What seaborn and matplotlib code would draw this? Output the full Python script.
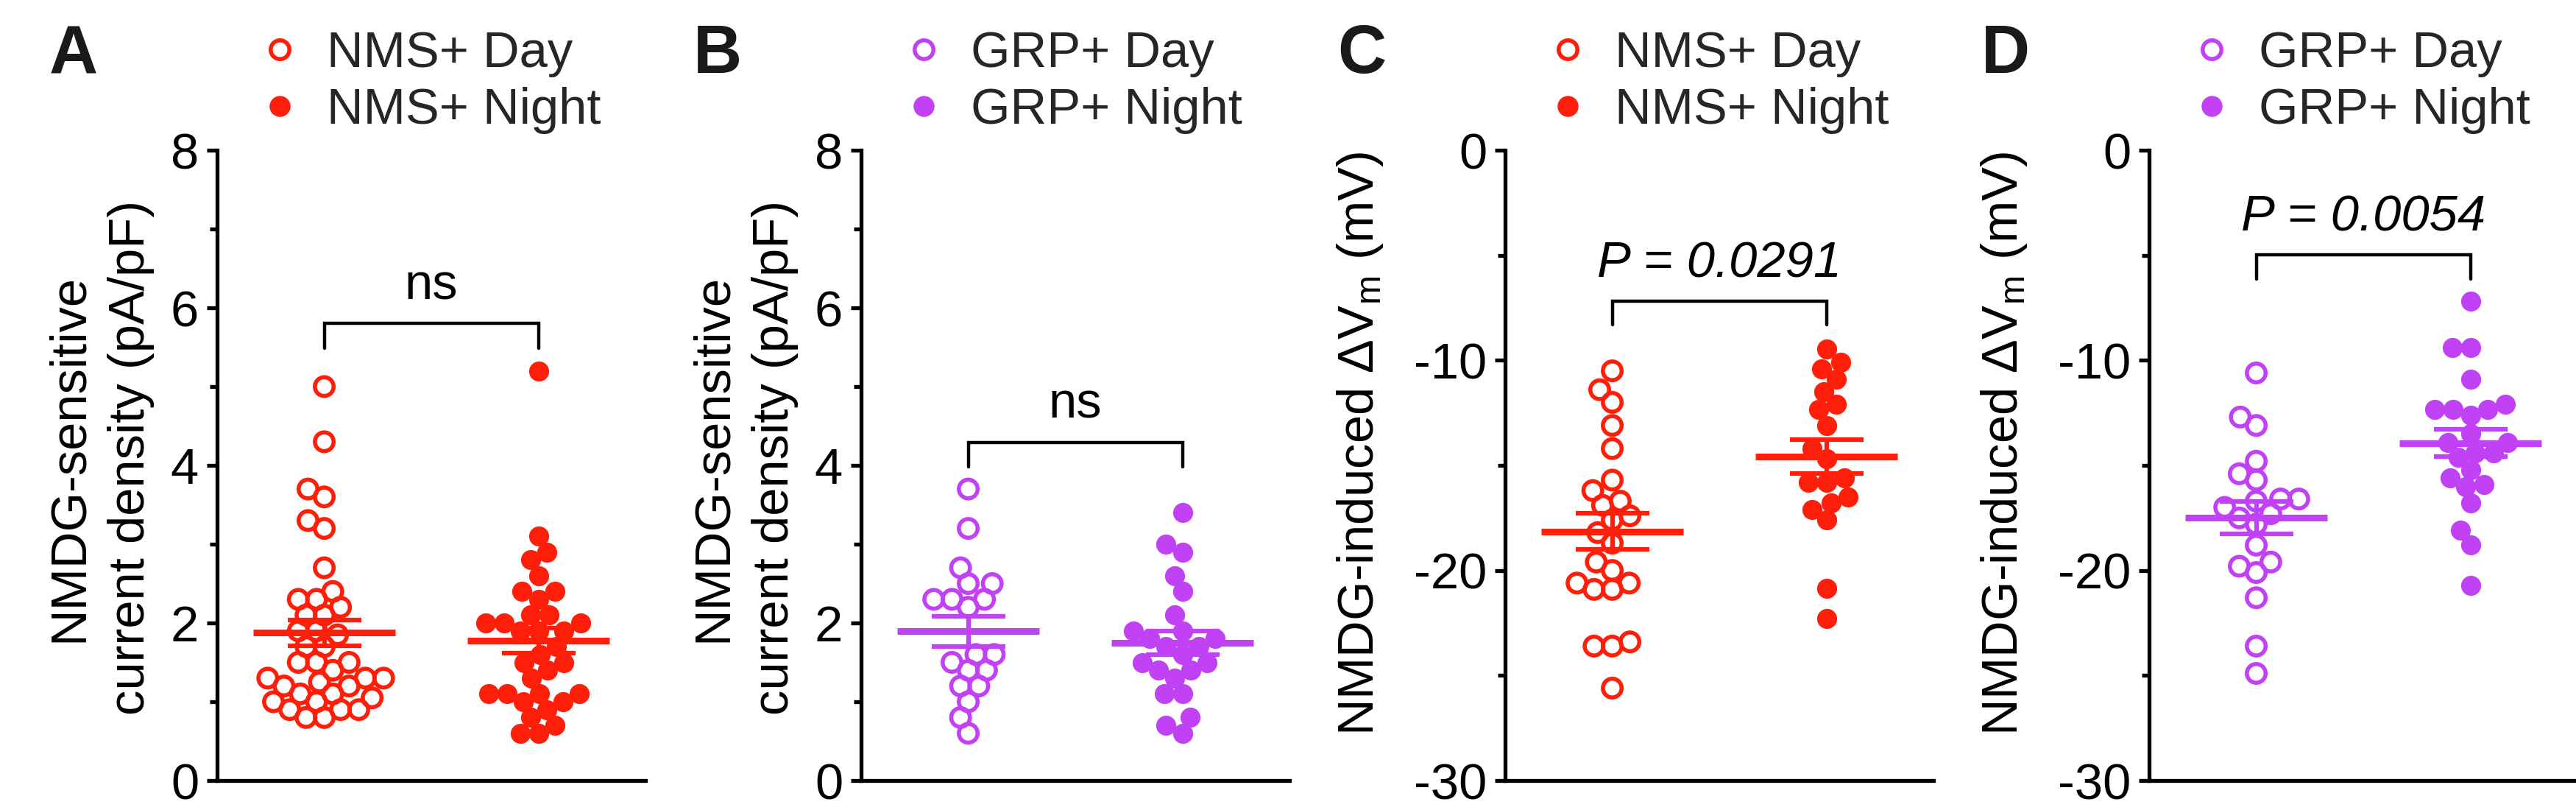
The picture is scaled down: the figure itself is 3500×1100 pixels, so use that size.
import numpy as np
import pandas as pd
import matplotlib
matplotlib.use("Agg")
import matplotlib.pyplot as plt
from matplotlib.lines import Line2D
import seaborn as sns

# ---------------- data ----------------
nms_cd_day = [5.0, 4.3, 3.7, 3.6, 3.3, 3.2, 2.7, 2.4, 2.3, 2.3, 2.2, 2.1, 2.1, 1.9, 1.9,
              1.85, 1.7, 1.7, 1.5, 1.5, 1.5, 1.4, 1.3, 1.3, 1.3, 1.25, 1.2, 1.2, 1.1, 1.1,
              1.05, 1.0, 1.0, 0.9, 0.9, 0.9, 0.8, 0.8]
nms_cd_night = [5.2, 3.1, 2.9, 2.8, 2.6, 2.4, 2.4, 2.3, 2.1, 2.1, 2.0, 2.0, 2.0, 1.9, 1.9,
                1.9, 1.7, 1.6, 1.5, 1.5, 1.4, 1.3, 1.1, 1.1, 1.1, 1.1, 1.0, 1.0, 0.9, 0.8,
                0.7, 0.6, 0.6]
grp_cd_day = [3.7, 3.2, 2.7, 2.5, 2.5, 2.3, 2.3, 2.3, 2.2, 1.6, 1.6, 1.5, 1.4, 1.4, 1.2,
              1.2, 1.0, 0.8, 0.6]
grp_cd_night = [3.4, 3.0, 2.9, 2.6, 2.4, 2.1, 1.9, 1.9, 1.8, 1.8, 1.7, 1.7, 1.6, 1.5, 1.5,
                1.4, 1.4, 1.3, 1.1, 1.1, 0.8, 0.7, 0.6]
nms_vm_day = [-10.5, -11.4, -12.0, -13.1, -14.2, -15.7, -16.2, -16.7, -16.9, -17.4, -17.6,
              -18.2, -18.7, -19.6, -20.0, -20.6, -20.6, -20.9, -20.9, -23.4, -23.6, -23.6,
              -25.6]
nms_vm_night = [-9.45, -10.1, -10.4, -10.9, -11.5, -12.1, -12.35, -13.1, -14.2, -14.7,
                -15.6, -15.8, -15.8, -16.5, -16.8, -17.1, -17.6, -20.85, -22.3]
grp_vm_day = [-10.6, -12.7, -13.1, -14.8, -15.4, -15.7, -16.6, -16.6, -16.7, -17.0, -17.3,
              -17.5, -17.8, -18.8, -19.6, -19.8, -20.1, -21.3, -23.6, -24.9]
grp_vm_night = [-7.2, -9.4, -9.4, -10.9, -12.1, -12.35, -12.35, -12.35, -12.6, -13.5, -13.9,
                -13.9, -14.4, -14.4, -14.6, -15.2, -15.6, -15.9, -16.0, -16.8, -18.1, -18.8,
                -20.7]

panel_letters = ["A", "B", "C", "D"]
nms_labels = ["NMS+ Day", "NMS+ Night"]
grp_labels = ["GRP+ Day", "GRP+ Night"]
cd_ylabel = "NMDG-sensitive\ncurrent density (pA/pF)"
vm_ylabel = r"NMDG-induced ΔV$_\mathregular{m}$ (mV)"
sig_texts = ["ns", "ns", "P = 0.0291", "P = 0.0054"]
cd_ticks = [0, 2, 4, 6, 8]
vm_ticks = [-30, -20, -10, 0]

RED = "#FF1E0A"
PURPLE = "#C142F5"

# ---------------- style ----------------
sns.set_theme(style="ticks")
plt.rcParams["font.family"] = ["Liberation Sans", "DejaVu Sans"]
plt.rcParams["axes.unicode_minus"] = False
plt.rcParams["mathtext.fontset"] = "custom"
plt.rcParams["mathtext.rm"] = "Liberation Sans"
plt.rcParams["mathtext.it"] = "Liberation Sans:italic"

FS = 49.5
AXLW = 3.8
SWARM_SIZE = 17.0      # spacing used by the swarm layout (points overlap, as in the original)
OPEN_SIZE = 18.3
OPEN_LW = 4.0
FILLED_SIZE = 19.6

fig = plt.figure(figsize=(35, 11), dpi=100)
lefts = [0.0843, 0.3343, 0.5843, 0.8343]
AX_BOTTOM_PX = 1060
AX_TOP_PX = 204
bottom = (1100 - AX_BOTTOM_PX) / 1100
height = (AX_BOTTOM_PX - AX_TOP_PX) / 1100
width = 0.1663

panels = [
    dict(day=nms_cd_day, night=nms_cd_night, labels=nms_labels, color=RED,
         ylim=(0, 8), ticks=cd_ticks, minor=[1, 3, 5, 7], ylabel=cd_ylabel,
         lab_xy=(-0.146, 0.512), bar=(5.49, 5.80), txt_y=6.11, italic=False),
    dict(day=grp_cd_day, night=grp_cd_night, labels=grp_labels, color=PURPLE,
         ylim=(0, 8), ticks=cd_ticks, minor=[1, 3, 5, 7], ylabel=cd_ylabel,
         lab_xy=(-0.146, 0.512), bar=(3.98, 4.29), txt_y=4.60, italic=False),
    dict(day=nms_vm_day, night=nms_vm_night, labels=nms_labels, color=RED,
         ylim=(-30, 0), ticks=vm_ticks, minor=[-25, -15, -5], ylabel=vm_ylabel,
         lab_xy=(-0.28, 0.534), bar=(-8.3, -7.19), txt_y=-6.03, italic=True),
    dict(day=grp_vm_day, night=grp_vm_night, labels=grp_labels, color=PURPLE,
         ylim=(-30, 0), ticks=vm_ticks, minor=[-25, -15, -5], ylabel=vm_ylabel,
         lab_xy=(-0.28, 0.534), bar=(-6.13, -4.96), txt_y=-3.85, italic=True),
]

swarm_cols = []
for k, p in enumerate(panels):
    ax = fig.add_axes([lefts[k], bottom, width, height])
    order = p["labels"]
    df = pd.DataFrame({
        "group": [order[0]] * len(p["day"]) + [order[1]] * len(p["night"]),
        "value": list(p["day"]) + list(p["night"]),
    })
    n0 = len(ax.collections)
    sns.swarmplot(data=df, x="group", y="value", hue="group", order=order,
                  hue_order=order, palette=[p["color"], p["color"]], size=SWARM_SIZE,
                  linewidth=0, legend=False, ax=ax, zorder=2)
    cols = ax.collections[n0:n0 + 2]
    swarm_cols.append((cols, p["color"]))

    # mean +/- SEM
    for i, vals in enumerate([p["day"], p["night"]]):
        v = np.asarray(vals, dtype=float)
        m = v.mean()
        se = v.std(ddof=1) / np.sqrt(len(v))
        ax.hlines(m, i - 0.333, i + 0.333, color=p["color"], lw=6.5, zorder=5)
        ax.errorbar(i, m, yerr=se, color=p["color"], elinewidth=4.5, capsize=36,
                    capthick=4.5, zorder=5, fmt="none")

    # significance bracket
    y_tip, y_bar = p["bar"]
    ax.plot([0, 0, 1, 1], [y_tip, y_bar, y_bar, y_tip], color="black", lw=3.2,
            solid_joinstyle="miter", zorder=6)
    ax.text(0.5, p["txt_y"], sig_texts[k], ha="center", va="baseline", fontsize=FS,
            fontstyle="italic" if p["italic"] else "normal", color="black")

    # axes styling
    ax.set_xlim(-0.5, 1.5)
    ax.set_ylim(*p["ylim"])
    ax.set_xticks([])
    ax.set_xlabel("")
    ax.set_yticks(p["ticks"])
    ax.set_yticklabels([str(t) for t in p["ticks"]])
    ax.set_yticks(p["minor"], minor=True)
    ax.tick_params(axis="y", which="major", length=10, width=AXLW, labelsize=FS,
                   pad=8, colors="black", direction="out")
    ax.tick_params(axis="y", which="minor", length=7, width=AXLW, direction="out",
                   colors="black")
    for s in ["top", "right"]:
        ax.spines[s].set_visible(False)
    for s in ["left", "bottom"]:
        ax.spines[s].set_linewidth(AXLW)
        ax.spines[s].set_color("black")
    ax.set_ylabel(p["ylabel"], fontsize=FS, color="black", linespacing=1.4)
    ax.yaxis.set_label_coords(*p["lab_xy"])
    ax.set_facecolor("none")

    # legend
    handles = [
        Line2D([], [], marker="o", linestyle="", markerfacecolor="none",
               markeredgecolor=p["color"], markeredgewidth=OPEN_LW, markersize=OPEN_SIZE),
        Line2D([], [], marker="o", linestyle="", markerfacecolor=p["color"],
               markeredgewidth=0, markersize=20.5),
    ]
    ax.legend(handles, order, loc="center left", bbox_to_anchor=(0.110, 1.108),
              frameon=False, fontsize=FS, borderpad=0, borderaxespad=0,
              handlelength=0.6, handletextpad=0.64, labelspacing=0.2)

    # panel letter
    fig.text((lefts[k] * 3500 - 228) / 3500, 1 - 99 / 1100, panel_letters[k],
             fontsize=66, fontweight="bold", ha="left", va="baseline", color="#1a1a1a")

# Let seaborn's beeswarm lay the points out once, then freeze that layout and
# restyle the markers at their final (overlapping) size.
fig.canvas.draw()
for cols, color in swarm_cols:
    for c in cols:
        if "draw" in c.__dict__:
            del c.draw
    day_c, night_c = cols
    day_c.set_facecolor("none")
    day_c.set_edgecolor(color)
    day_c.set_linewidth(OPEN_LW)
    day_c.set_sizes([OPEN_SIZE ** 2])
    night_c.set_facecolor(color)
    night_c.set_edgecolor(color)
    night_c.set_linewidth(0)
    night_c.set_sizes([FILLED_SIZE ** 2])

fig.savefig("out.png", dpi=100, facecolor="white")
